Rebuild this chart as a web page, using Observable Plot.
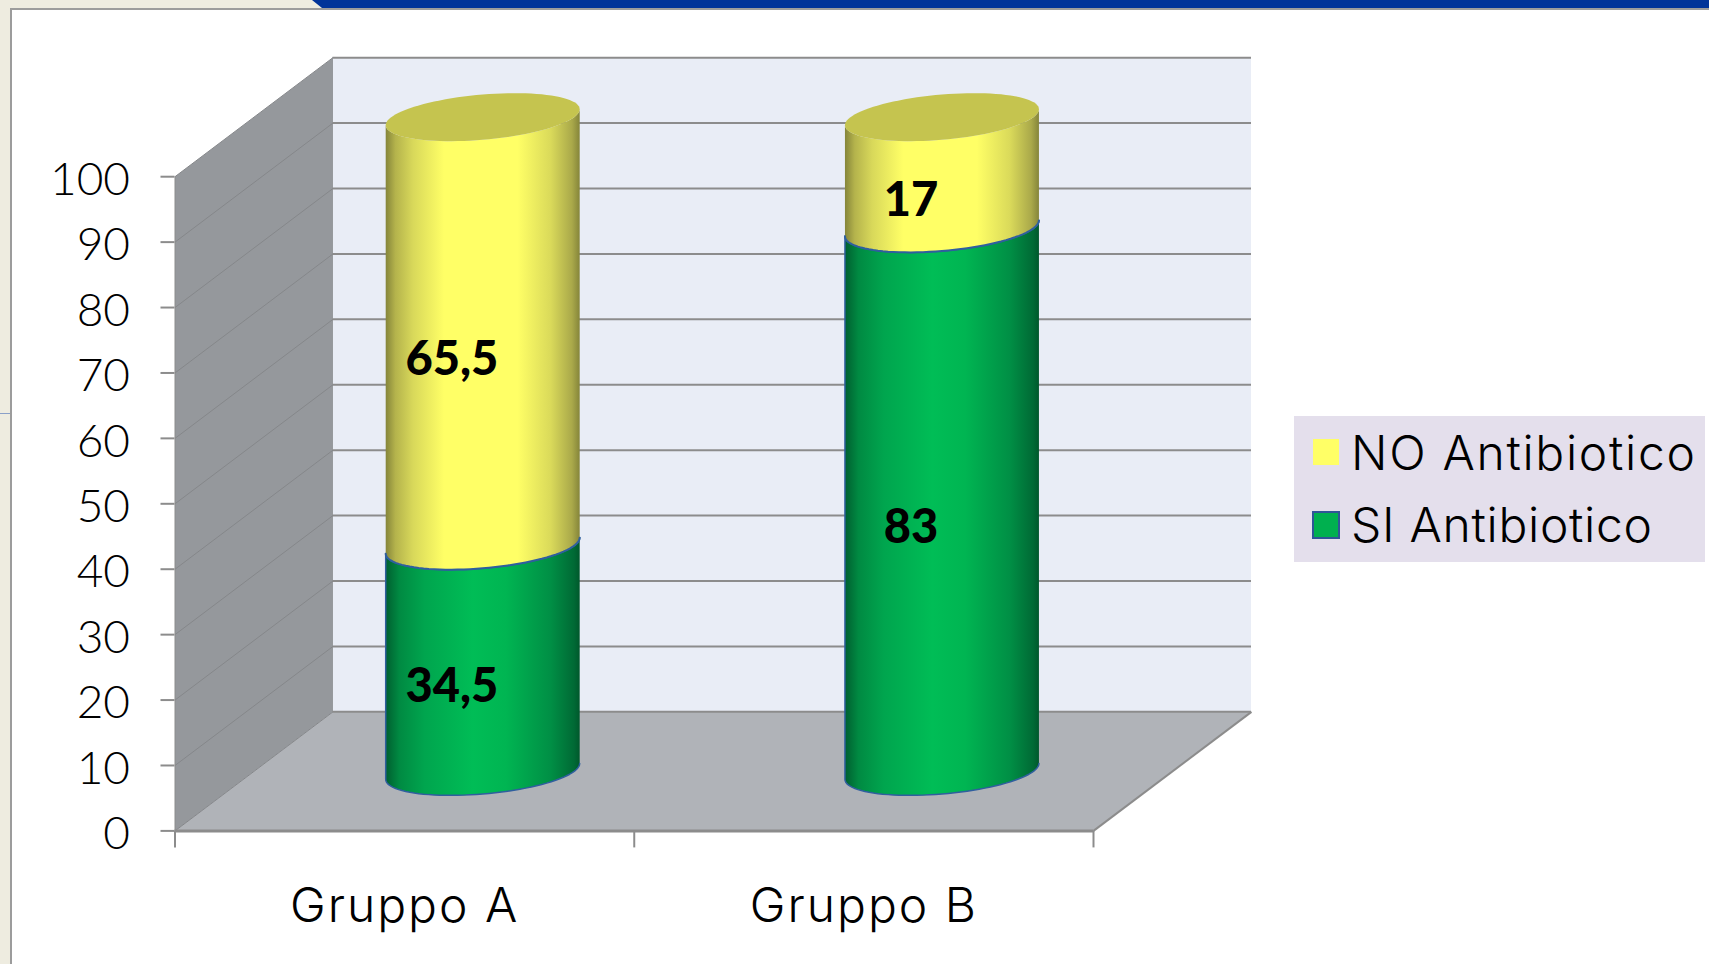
<!DOCTYPE html>
<html><head><meta charset="utf-8">
<script src="https://cdn.jsdelivr.net/npm/d3@7"></script>
<script src="https://cdn.jsdelivr.net/npm/@observablehq/plot@0.6"></script>
<style>
html,body{margin:0;padding:0;background:#fff;overflow:hidden}
#page{position:relative;width:1709px;height:964px;font-family:Lato,sans-serif;overflow:hidden}
#page svg{position:absolute;left:0;top:0;background:transparent}
.deco{position:absolute}
.leg{position:absolute;font-family:Inter,sans-serif;font-size:48px;font-weight:300;line-height:1;color:#000;white-space:nowrap}
.grp text{letter-spacing:2px}
</style></head><body><div id="page">
<div class="deco" style="left:0;top:0;width:1709px;height:8px;background:#eeece0"></div>
<div class="deco" style="left:0;top:0;width:10px;height:964px;background:#eeece0"></div>
<div class="deco" style="left:10px;top:8px;width:1699px;height:2px;background:#9c9c9c"></div>
<div class="deco" style="left:10px;top:8px;width:2px;height:956px;background:#9c9c9c"></div>
<div class="deco" style="left:0;top:413px;width:10px;height:1px;background:#8aa0c8"></div>
<div class="deco" style="left:312px;top:0;width:1397px;height:8px;background:#003399;clip-path:polygon(0 0,100% 0,100% 100%,10px 100%)"></div>
<div class="deco" style="left:1294px;top:416px;width:411px;height:146px;background:#e4dfec"></div>
<div class="deco" style="left:1313px;top:439px;width:26px;height:26px;background:#ffff66"></div>
<div class="deco" style="left:1312px;top:511px;width:24px;height:24px;background:#00b04f;border:2px solid #2f5597"></div>
<div class="leg" style="left:1351px;top:429px;letter-spacing:1.7px">NO Antibiotico</div>
<div class="leg" style="left:1351px;top:501px;letter-spacing:0.7px">SI Antibiotico</div>
</div>
<script>
const groups = ["Gruppo A", "Gruppo B"];
const siValues = [34.5, 83];
const noValues = [65.5, 17];
const siLabels = ["34,5", "83"];
const noLabels = ["65,5", "17"];
const yTicks = [0, 10, 20, 30, 40, 50, 60, 70, 80, 90, 100];
const xEdges = [0, 1, 2];

// oblique projection of the chart's depth, in data units of x and y
const depthX = 0.344, depthY = 18.2;
const halfW = 0.2112, capB = 3.46, capS = 1.22;
const cx = i => i + 0.5 + depthX / 2 - 0.002;
const cy = v => v + depthY / 2;
const N = 48;
const frontArc = (i, v, rev) => {
  const ts = d3.range(N + 1).map(k => Math.PI * k / N);
  if (rev) ts.reverse();
  return ts.map(t => ({x: cx(i) + halfW * Math.cos(t), y: cy(v) - capB * Math.sin(t) + capS * Math.cos(t)}));
};
const capRing = (i, v) => d3.range(2 * N + 1).map(k => {
  const t = Math.PI * k / N;
  return {x: cx(i) + halfW * Math.cos(t), y: cy(v) - capB * Math.sin(t) + capS * Math.cos(t)};
});
const barrel = (i, a, b) => [...frontArc(i, a, false), ...frontArc(i, b, true)];
const line = (pts, o) => Plot.line(pts, {x: "x", y: "y", ...o});

const gradient = (id, stops) => () => {
  const d = d3.create("svg:defs");
  const g = d.append("linearGradient").attr("id", id).attr("x1", 0).attr("x2", 1).attr("y1", 0).attr("y2", 0);
  stops.forEach(([o, c]) => g.append("stop").attr("offset", o).attr("stop-color", c));
  return d.node();
};

const marks = [
  gradient("gy", [[0, "#85853a"], [0.05, "#b4b34c"], [0.14, "#d8d85a"], [0.3, "#ffff66"], [0.68, "#ffff66"], [0.85, "#dada5a"], [0.96, "#aaa94a"], [1, "#85853a"]]),
  gradient("gg", [[0, "#005f30"], [0.07, "#008a42"], [0.2, "#00a54e"], [0.45, "#00bd56"], [0.62, "#00b552"], [0.85, "#008f45"], [0.97, "#006a35"], [1, "#00582c"]]),
  // back wall
  Plot.rect([0], {x1: depthX, x2: 2 + depthX, y1: depthY, y2: 100 + depthY, fill: "#e9edf6"}),
  // floor
  line([{x: 0, y: 0}, {x: depthX, y: depthY}, {x: 2 + depthX, y: depthY}, {x: 2, y: 0}], {fill: "#b0b3b8", stroke: "none"}),
  // left wall
  line([{x: 0, y: 0}, {x: depthX, y: depthY}, {x: depthX, y: 100 + depthY}, {x: 0, y: 100}], {fill: "#95989c", stroke: "none"}),
  // gridlines
  Plot.ruleY(yTicks, {y: d => d + depthY, x1: depthX, x2: 2 + depthX, stroke: "#8c8c8c", strokeWidth: 2}),
  Plot.link(yTicks, {x1: 0, x2: depthX, y1: d => d, y2: d => d + depthY, stroke: "#85878a", strokeWidth: 1}),
  // floor edges
  Plot.link([0], {x1: 2, x2: 2 + depthX, y1: 0, y2: depthY, stroke: "#8c8c8c", strokeWidth: 2}),
  Plot.ruleY([0], {x1: 0, x2: 2, stroke: "#8c8c8c", strokeWidth: 3}),
  Plot.ruleX([0], {y1: 0, y2: 100, stroke: "#8c8c8c", strokeWidth: 1}),
  Plot.ruleX(xEdges, {y1: -2.6, y2: 0, stroke: "#8c8c8c", strokeWidth: 2}),
  Plot.ruleY(yTicks, {x1: -0.0305, x2: 0, stroke: "#8c8c8c", strokeWidth: 2}),
];
groups.forEach((g, i) => {
  const s = siValues[i];
  marks.push(
    line(barrel(i, 0, s), {fill: "url(#gg)", stroke: "#2f5f9e", strokeWidth: 1.5}),
    line(barrel(i, s, 100), {fill: "url(#gy)", stroke: "none"}),
    line(frontArc(i, s, false), {stroke: "#2f5f9e", strokeWidth: 2}),
    line(capRing(i, 100), {fill: "#c5c44f", stroke: "none"})
  );
});
const labelZ = 0.28;
const labelRows = groups.flatMap((g, i) => [
  {i, y: siValues[i] / 2, t: siLabels[i]},
  {i, y: siValues[i] + noValues[i] / 2, t: noLabels[i]}
]);
marks.push(
  Plot.text(labelRows, {x: d => d.i + 0.5 + depthX * labelZ, y: d => d.y + depthY * labelZ, text: "t", dx: 3, dy: 2,
    fontSize: 47, fontWeight: 900, fill: "#000", fontFamily: "Lato"}),
  Plot.axisY({ticks: yTicks, tickSize: 0, tickPadding: 45, fill: "#000", fontSize: 46, fontWeight: 300, label: null, fontFamily: "Lato", dy: 3.5}),
  Plot.text(groups, {x: (d, i) => i + 0.5, y: 0, dy: 76, text: d => d, fontSize: 48, fontWeight: 300, fill: "#000", fontFamily: "Inter", className: "grp"})
);

const chart = Plot.plot({
  width: 1709, height: 964,
  marginLeft: 174.5, marginRight: 616, marginTop: 176.2, marginBottom: 133.6,
  x: {domain: [0, 2], axis: null},
  y: {domain: [0, 100], axis: null},
  style: {background: "transparent", overflow: "visible"},
  marks
});
document.getElementById("page").appendChild(chart);
</script></body></html>
